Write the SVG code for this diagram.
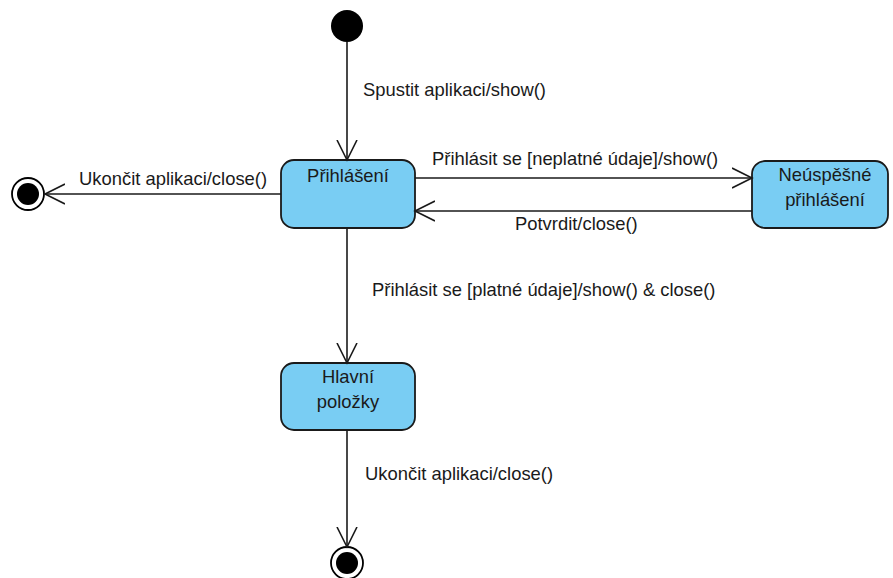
<svg xmlns="http://www.w3.org/2000/svg" width="893" height="578" viewBox="0 0 893 578">
<style>
  text { font-family: "Liberation Sans", Arial, sans-serif; font-size: 18.4px; fill: #1a1a1a; }
  .state rect { fill: #79cdf3; stroke: #1a1a1a; stroke-width: 1.8; }
  .conn line { stroke: #1a1a1a; stroke-width: 1.6; fill: none; }
  .mid { text-anchor: middle; }
</style>
<defs>
  <marker id="open" viewBox="0 0 22 22" refX="20" refY="11" markerWidth="22" markerHeight="22" markerUnits="userSpaceOnUse" orient="auto">
    <path d="M0,1 L20,11 L0,21" fill="none" stroke="#1a1a1a" stroke-width="1.6"/>
  </marker>
</defs>
<g id="start"><circle cx="347" cy="26" r="16" fill="#000"/></g>
<g id="end-left"><circle cx="28" cy="194" r="16" fill="#fff" stroke="#000" stroke-width="1.8"/><circle cx="28" cy="194" r="11" fill="#000"/></g>
<g id="end-bottom"><circle cx="347" cy="563" r="16" fill="#fff" stroke="#000" stroke-width="1.8"/><circle cx="347" cy="563" r="11" fill="#000"/></g>
<g id="prihlaseni" class="state"><rect x="281" y="160" width="134" height="68" rx="13"/><text class="mid" x="348" y="182">Přihlášení</text></g>
<g id="neuspesne" class="state"><rect x="752" y="161" width="136" height="67" rx="13"/><text class="mid" x="825" y="181">Neúspěšné</text><text class="mid" x="825" y="206">přihlášení</text></g>
<g id="hlavni" class="state"><rect x="281" y="363" width="134" height="67" rx="13"/><text class="mid" x="348" y="383">Hlavní</text><text class="mid" x="348" y="408">položky</text></g>
<g id="connectors" class="conn">
  <line x1="347" y1="42" x2="347" y2="160" marker-end="url(#open)"/>
  <line x1="281" y1="194" x2="45" y2="194" marker-end="url(#open)"/>
  <line x1="415" y1="178" x2="752" y2="178" marker-end="url(#open)"/>
  <line x1="752" y1="211" x2="415" y2="211" marker-end="url(#open)"/>
  <line x1="347" y1="228" x2="347" y2="363" marker-end="url(#open)"/>
  <line x1="347" y1="430" x2="347" y2="547" marker-end="url(#open)"/>
</g>
<g id="labels">
  <text x="363" y="96">Spustit aplikaci/show()</text>
  <text x="79" y="185">Ukončit aplikaci/close()</text>
  <text x="432" y="165">Přihlásit se [neplatné údaje]/show()</text>
  <text x="515" y="230">Potvrdit/close()</text>
  <text x="372" y="296">Přihlásit se [platné údaje]/show() &amp; close()</text>
  <text x="365" y="480">Ukončit aplikaci/close()</text>
</g>
</svg>
